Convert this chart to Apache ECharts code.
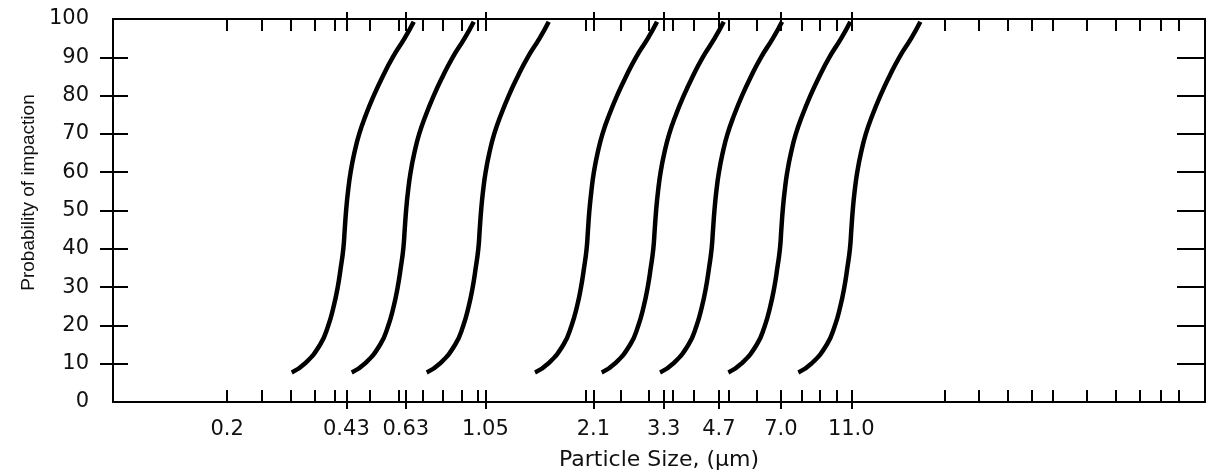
<!DOCTYPE html>
<html>
<head>
<meta charset="utf-8">
<title>Probability of impaction</title>
<script src="https://cdn.jsdelivr.net/npm/echarts@6.0.0/dist/echarts.min.js"></script>
<style>
  html, body { margin: 0; padding: 0; background: #fff; }
  #chart { width: 1210px; height: 476px; }
</style>
</head>
<body>
<div id="chart"></div>
<script>
// tick labels on the particle size axis
const xLabelText = ['0.2', '0.43', '0.63', '1.05', '2.1', '3.3', '4.7', '7.0', '11.0'];
const xLabelValues = [0.2, 0.43, 0.63, 1.05, 2.1, 3.3, 4.7, 7.0, 11.0];
// long ticks (crossing the frame) at the cut sizes
const xMajorTicks = [0.43, 0.63, 1.05, 2.1, 3.3, 4.7, 7.0, 11.0];
// short inner ticks
const xMinorTicks = [0.2, 0.25, 0.3, 0.35, 0.4, 0.5, 0.6, 0.7, 0.8, 0.9, 1.0,
  2.0, 2.5, 3.0, 3.5, 4.0, 5.0, 6.0, 8.0, 9.0, 10,
  20, 25, 30, 35, 40, 50, 60, 70, 80, 90];
const yTicks = [10, 20, 30, 40, 50, 60, 70, 80, 90];

// probability levels where the curves were read
const probability = [7.7, 10, 15, 20, 25, 30, 35, 40, 45, 50, 55, 60, 65, 70, 75, 80, 85, 90, 95, 99.3];

// particle size (um) of each curve at those levels
const size043 = [0.3027, 0.3291, 0.3635, 0.3829, 0.3964, 0.4068, 0.4147, 0.4217, 0.4255, 0.4293,
  0.4346, 0.4419, 0.4525, 0.4670, 0.4875, 0.5127, 0.5430, 0.5790, 0.6253, 0.6627];
const size063 = [0.4450, 0.4838, 0.5344, 0.5629, 0.5828, 0.5979, 0.6096, 0.6198, 0.6254, 0.6310,
  0.6388, 0.6496, 0.6652, 0.6864, 0.7167, 0.7536, 0.7982, 0.8511, 0.9192, 0.9741];
const size105 = [0.7203, 0.7831, 0.8650, 0.9111, 0.9433, 0.9678, 0.9866, 1.0033, 1.0123, 1.0214,
  1.0340, 1.0514, 1.0767, 1.1111, 1.1600, 1.2198, 1.2920, 1.3776, 1.4878, 1.5767];
const size21 = [1.444, 1.570, 1.734, 1.826, 1.891, 1.940, 1.978, 2.011, 2.029, 2.047,
  2.073, 2.107, 2.158, 2.227, 2.325, 2.445, 2.590, 2.761, 2.982, 3.160];
const size33 = [2.216, 2.409, 2.661, 2.803, 2.902, 2.977, 3.035, 3.086, 3.114, 3.142,
  3.181, 3.234, 3.312, 3.418, 3.568, 3.752, 3.974, 4.238, 4.577, 4.850];
const size47 = [3.222, 3.503, 3.869, 4.075, 4.219, 4.329, 4.413, 4.487, 4.528, 4.569,
  4.625, 4.703, 4.816, 4.970, 5.189, 5.456, 5.779, 6.162, 6.655, 7.052];
const size70 = [4.995, 5.430, 5.998, 6.319, 6.541, 6.712, 6.842, 6.958, 7.020, 7.083,
  7.171, 7.291, 7.467, 7.705, 8.045, 8.460, 8.960, 9.554, 10.318, 10.934];
const size110 = [7.830, 8.512, 9.403, 9.905, 10.254, 10.521, 10.725, 10.906, 11.005, 11.103,
  11.240, 11.429, 11.705, 12.078, 12.610, 13.261, 14.045, 14.975, 16.174, 17.140];

const curves = [size043, size063, size105, size21, size33, size47, size70, size110];

const chart = echarts.init(document.getElementById('chart'));

const ink = '#000';
const xMin = 0.0961;
const xMax = 106.6;

const labelFor = (v) => {
  const i = xLabelValues.findIndex(x => Math.abs(x - v) < 1e-6);
  return i >= 0 ? xLabelText[i] : '';
};

// axes that only carry ticks / frame lines
const bareX = (position, inside, length, values, showLine) => ({
  type: 'log',
  position: position,
  min: xMin,
  max: xMax,
  axisLine: { show: showLine, onZero: false, lineStyle: { color: ink, width: 2 } },
  axisTick: { show: true, inside: inside, length: length, customValues: values, lineStyle: { color: ink, width: 2 } },
  axisLabel: { show: false },
  splitLine: { show: false }
});

const bareY = (position, inside, length, showLine) => ({
  type: 'value',
  position: position,
  min: 0,
  max: 100,
  interval: 10,
  axisLine: { show: showLine, onZero: false, lineStyle: { color: ink, width: 2 } },
  axisTick: { show: true, inside: inside, length: length, customValues: yTicks, lineStyle: { color: ink, width: 2 } },
  axisLabel: { show: false },
  splitLine: { show: false }
});

const xMain = bareX('bottom', false, 7, xMajorTicks, true);
xMain.axisLabel = {
  show: true,
  customValues: xLabelValues,
  formatter: labelFor,
  margin: 17,
  color: '#111',
  fontFamily: 'DejaVu Sans',
  fontSize: 21
};
xMain.name = 'Particle Size, (\u00b5m)';
xMain.nameLocation = 'middle';
xMain.nameGap = 47;
xMain.nameTextStyle = { color: '#111', fontFamily: 'DejaVu Sans', fontSize: 22 };

const yMain = bareY('left', false, 13, true);
yMain.axisLabel = {
  show: true,
  margin: 24,
  color: '#111',
  fontFamily: 'DejaVu Sans',
  fontSize: 21
};
yMain.name = 'Probability of impaction';
yMain.nameLocation = 'middle';
yMain.nameGap = 75;
yMain.nameTextStyle = { color: '#111', fontFamily: 'Liberation Sans', fontSize: 19, padding: [0, 0, 0, 36] };

chart.setOption({
  animation: false,
  backgroundColor: '#fff',
  grid: { left: 113, right: 5, top: 19, bottom: 72 },
  xAxis: [
    xMain,
    bareX('bottom', true, 12, xMinorTicks.concat(xMajorTicks), false),
    bareX('top', false, 7, xMajorTicks, true),
    bareX('top', true, 12, xMinorTicks.concat(xMajorTicks), false)
  ],
  yAxis: [
    yMain,
    bareY('left', true, 15, false),
    bareY('right', true, 28, true)
  ],
  series: curves.map(sizes => ({
    type: 'line',
    xAxisIndex: 0,
    yAxisIndex: 0,
    data: sizes.map((s, i) => [s, probability[i]]),
    smooth: true,
    showSymbol: false,
    lineStyle: { color: ink, width: 4.5 }
  }))
});
</script>
</body>
</html>
